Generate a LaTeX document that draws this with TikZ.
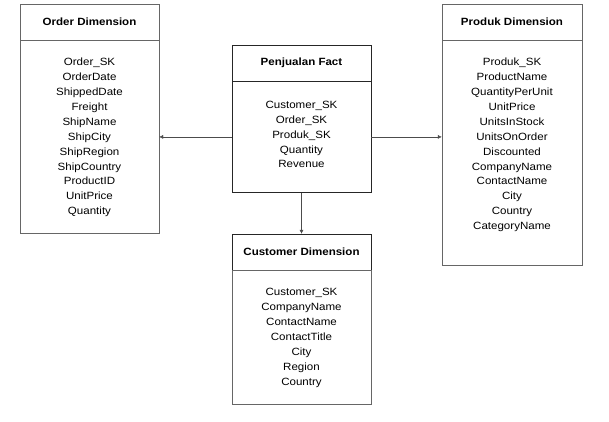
\documentclass[tikz,border=0pt]{standalone}
\usepackage{fontspec}
\setmainfont{Liberation Sans}[FakeStretch=1.1]
\usetikzlibrary{arrows.meta, positioning}

\begin{document}
\begin{tikzpicture}[
    x=1pt, y=-1pt,
    title/.style={rectangle, draw=black!60, minimum width=139pt, minimum height=36pt, inner sep=0pt, font=\fontsize{10.5}{12}\selectfont\bfseries},
    body/.style={rectangle, draw=black!60, minimum width=139pt, inner sep=0pt},
    fields/.style={align=center, inner sep=0pt, font=\fontsize{10.5}{14.9}\selectfont},
    arrow/.style={-{Latex[length=4pt, width=4pt]}, black!70}
]
\useasboundingbox (0,0) rectangle (609,421);

% Order Dimension
\node[title] (otitle) at (89.5,22) {Order Dimension};
\node[body, minimum height=193pt, below=0pt of otitle] (obody) {};
\node[fields] (ofields) at (89.5,137.5) {Order\_SK\\OrderDate\\ShippedDate\\Freight\\ShipName\\ShipCity\\ShipRegion\\ShipCountry\\ProductID\\UnitPrice\\Quantity};

% Penjualan Fact
\node[title, draw=black!85] (ftitle) at (301.5,63) {Penjualan Fact};
\node[body, draw=black!85, minimum height=111pt, below=0pt of ftitle] (fbody) {};
\node[fields] (ffields) at (301.5,134.5) {Customer\_SK\\Order\_SK\\Produk\_SK\\Quantity\\Revenue};

% Customer Dimension
\node[title, draw=black!85] (ctitle) at (301.5,252) {Customer Dimension};
\node[body, minimum height=134pt, below=0pt of ctitle] (cbody) {};
\node[fields] (cfields) at (301.5,338) {Customer\_SK\\CompanyName\\ContactName\\ContactTitle\\City\\Region\\Country};

% Produk Dimension
\node[title, minimum width=140pt] (ptitle) at (512,22) {Produk Dimension};
\node[body, minimum width=140pt, minimum height=225pt, below=0pt of ptitle] (pbody) {};
\node[fields] (pfields) at (512,145) {Produk\_SK\\ProductName\\QuantityPerUnit\\UnitPrice\\UnitsInStock\\UnitsOnOrder\\Discounted\\CompanyName\\ContactName\\City\\Country\\CategoryName};

% Arrows
\draw[arrow] (fbody.west) -- (obody.east |- fbody.west);
\draw[arrow] (fbody.east) -- (pbody.west |- fbody.east);
\draw[arrow] (fbody.south) -- (ctitle.north);

\end{tikzpicture}
\end{document}
